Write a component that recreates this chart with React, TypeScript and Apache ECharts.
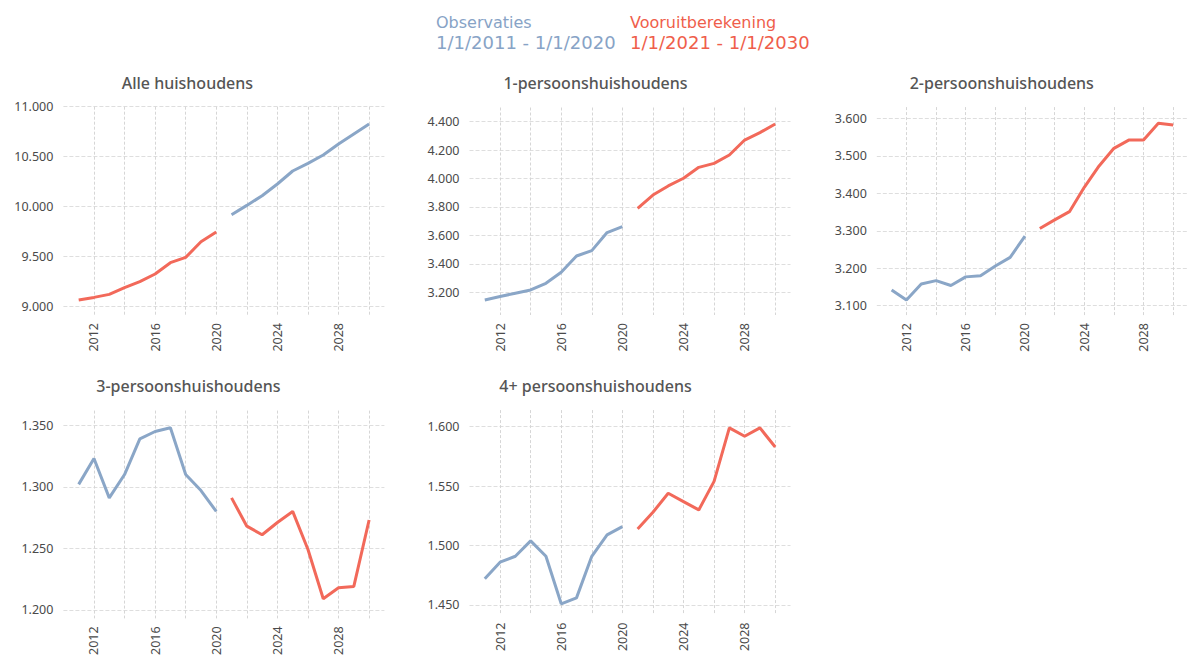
import React, { useEffect, useRef } from "react";
import * as echarts from "echarts";

const obsYears = [2011, 2012, 2013, 2014, 2015, 2016, 2017, 2018, 2019, 2020];
const projYears = [2021, 2022, 2023, 2024, 2025, 2026, 2027, 2028, 2029, 2030];

const panelTitles = [
  "Alle huishoudens",
  "1-persoonshuishoudens",
  "2-persoonshuishoudens",
  "3-persoonshuishoudens",
  "4+ persoonshuishoudens",
];

const legendObsName = "Observaties";
const legendObsRange = "1/1/2011 - 1/1/2020";
const legendProjName = "Vooruitberekening";
const legendProjRange = "1/1/2021 - 1/1/2030";

// Alle huishoudens (x 1000)
const alleObs = [9067, 9093, 9123, 9190, 9250, 9327, 9440, 9493, 9650, 9747];
const alleProj = [9920, 10013, 10110, 10227, 10357, 10433, 10517, 10627, 10727, 10827];
// 1-persoonshuishoudens
const een1Obs = [3146, 3170, 3193, 3216, 3263, 3341, 3455, 3493, 3620, 3662];
const een1Proj = [3791, 3884, 3948, 4002, 4079, 4107, 4166, 4271, 4323, 4384];
// 2-persoonshuishoudens
const twee2Obs = [3142, 3115, 3158, 3167, 3154, 3177, 3180, 3206, 3229, 3286];
const twee2Proj = [3306, 3329, 3351, 3416, 3473, 3520, 3542, 3542, 3587, 3582];
// 3-persoonshuishoudens
const drie3Obs = [1302, 1323, 1291, 1310, 1339, 1345, 1348, 1310, 1297, 1280];
const drie3Proj = [1291, 1268, 1261, 1271, 1280, 1249, 1209, 1218, 1219, 1273];
// 4+ persoonshuishoudens
const vier4Obs = [1472, 1486, 1491, 1504, 1491, 1451, 1456, 1491, 1509, 1516];
const vier4Proj = [1514, 1528, 1544, 1537, 1530, 1554, 1599, 1592, 1599, 1583];

const BLUE = "#8aa6c7";
const RED = "#f2695a";
const BLUE_TEXT = "#87a3c6";
const RED_TEXT = "#ef5e4b";

type Panel = {
  title: string;
  obs: number[];
  proj: number[];
  obsColor: string;
  projColor: string;
  grid: { left: number; top: number; width: number; height: number };
  yMin: number;
  yMax: number;
  split: number;
  maxOnTick: boolean;
};

const panels: Panel[] = [
  {
    title: panelTitles[0], obs: alleObs, proj: alleProj, obsColor: RED, projColor: BLUE,
    grid: { left: 63.4, top: 106.7, width: 321, height: 208.3 },
    yMin: 8917, yMax: 11000, split: 4, maxOnTick: true,
  },
  {
    title: panelTitles[1], obs: een1Obs, proj: een1Proj, obsColor: BLUE, projColor: RED,
    grid: { left: 469.5, top: 107.5, width: 321, height: 207.5 },
    yMin: 3040, yMax: 4500, split: 7, maxOnTick: false,
  },
  {
    title: panelTitles[2], obs: twee2Obs, proj: twee2Proj, obsColor: BLUE, projColor: RED,
    grid: { left: 876.8, top: 107.1, width: 321, height: 208 },
    yMin: 3075, yMax: 3630, split: 5, maxOnTick: false,
  },
  {
    title: panelTitles[3], obs: drie3Obs, proj: drie3Proj, obsColor: BLUE, projColor: RED,
    grid: { left: 63.4, top: 410.6, width: 321, height: 212.4 },
    yMin: 1193, yMax: 1362, split: 3, maxOnTick: false,
  },
  {
    title: panelTitles[4], obs: vier4Obs, proj: vier4Proj, obsColor: BLUE, projColor: RED,
    grid: { left: 469.5, top: 410.1, width: 321, height: 204.4 },
    yMin: 1442, yMax: 1614, split: 3, maxOnTick: false,
  },
];

const fmtThousands = (v: number) =>
  String(Math.round(v)).replace(/\B(?=(\d{3})+(?!\d))/g, ".");

const LABEL_FONT = "'Noto Sans', sans-serif";
const LEGEND_FONT = "'DejaVu Sans', Verdana, sans-serif";

export default function App() {
  const ref = useRef<HTMLDivElement>(null);

  useEffect(() => {
    if (!ref.current) return;
    const chart = echarts.init(ref.current, undefined, { renderer: "svg" });

    const grids: any[] = [];
    const xAxes: any[] = [];
    const yAxes: any[] = [];
    const series: any[] = [];
    const graphics: any[] = [];

    panels.forEach((p, i) => {
      grids.push({ ...p.grid, containLabel: false });
      xAxes.push({
        type: "value",
        gridIndex: i,
        min: 2010,
        max: 2031,
        interval: 2,
        axisLine: { show: false },
        axisTick: { show: false },
        axisLabel: {
          rotate: 90,
          margin: 8,
          color: "#4a4a4a",
          fontFamily: LABEL_FONT,
          fontSize: 12.5,
          showMinLabel: false,
          showMaxLabel: false,
          formatter: (v: number) => (v % 4 === 0 ? String(v) : ""),
        },
        splitLine: {
          show: true,
          showMinLine: false,
          showMaxLine: false,
          lineStyle: { color: "#d6d6d6", type: [3, 2], width: 1 },
        },
      });
      yAxes.push({
        type: "value",
        gridIndex: i,
        min: p.yMin,
        max: p.yMax,
        splitNumber: p.split,
        axisLine: { show: false },
        axisTick: { show: false },
        axisLabel: {
          margin: 10,
          color: "#4a4a4a",
          fontFamily: LABEL_FONT,
          fontSize: 12.5,
          showMinLabel: false,
          showMaxLabel: p.maxOnTick,
          formatter: (v: number) => fmtThousands(v),
        },
        splitLine: {
          show: true,
          showMinLine: false,
          showMaxLine: p.maxOnTick,
          lineStyle: { color: "#dedede", type: [4, 2], width: 1 },
        },
      });
      series.push({
        type: "line",
        xAxisIndex: i,
        yAxisIndex: i,
        data: obsYears.map((y, k) => [y, p.obs[k]]),
        symbol: "none",
        lineStyle: { color: p.obsColor, width: 3 },
        itemStyle: { color: p.obsColor },
      });
      series.push({
        type: "line",
        xAxisIndex: i,
        yAxisIndex: i,
        data: projYears.map((y, k) => [y, p.proj[k]]),
        symbol: "none",
        lineStyle: { color: p.projColor, width: 3 },
        itemStyle: { color: p.projColor },
      });
      const rowTitleY = i < 3 ? 83 : 386;
      const cx = p.grid.left + [124, 126, 125, 125, 126][i];
      graphics.push({
        type: "text",
        x: cx,
        y: rowTitleY,
        style: {
          text: p.title,
          fill: "#555555",
          font: `500 16px ${LABEL_FONT}`,
          textAlign: "center",
          textVerticalAlign: "middle",
        },
      });
    });

    graphics.push(
      {
        type: "text", x: 436, y: 22,
        style: { text: legendObsName, fill: BLUE_TEXT, font: `16px ${LEGEND_FONT}`, textAlign: "left", textVerticalAlign: "middle" },
      },
      {
        type: "text", x: 436, y: 42,
        style: { text: legendObsRange, fill: BLUE_TEXT, font: `18px ${LEGEND_FONT}`, textAlign: "left", textVerticalAlign: "middle" },
      },
      {
        type: "text", x: 630, y: 22,
        style: { text: legendProjName, fill: RED_TEXT, font: `16px ${LEGEND_FONT}`, textAlign: "left", textVerticalAlign: "middle" },
      },
      {
        type: "text", x: 630, y: 42,
        style: { text: legendProjRange, fill: RED_TEXT, font: `18px ${LEGEND_FONT}`, textAlign: "left", textVerticalAlign: "middle" },
      }
    );

    chart.setOption({
      animation: false,
      backgroundColor: "#ffffff",
      grid: grids,
      xAxis: xAxes,
      yAxis: yAxes,
      series,
      graphic: graphics,
    });

    return () => chart.dispose();
  }, []);

  return (
    <div
      ref={ref}
      style={{ position: "fixed", left: 0, top: 0, width: 1188, height: 658, background: "#fff" }}
    />
  );
}
